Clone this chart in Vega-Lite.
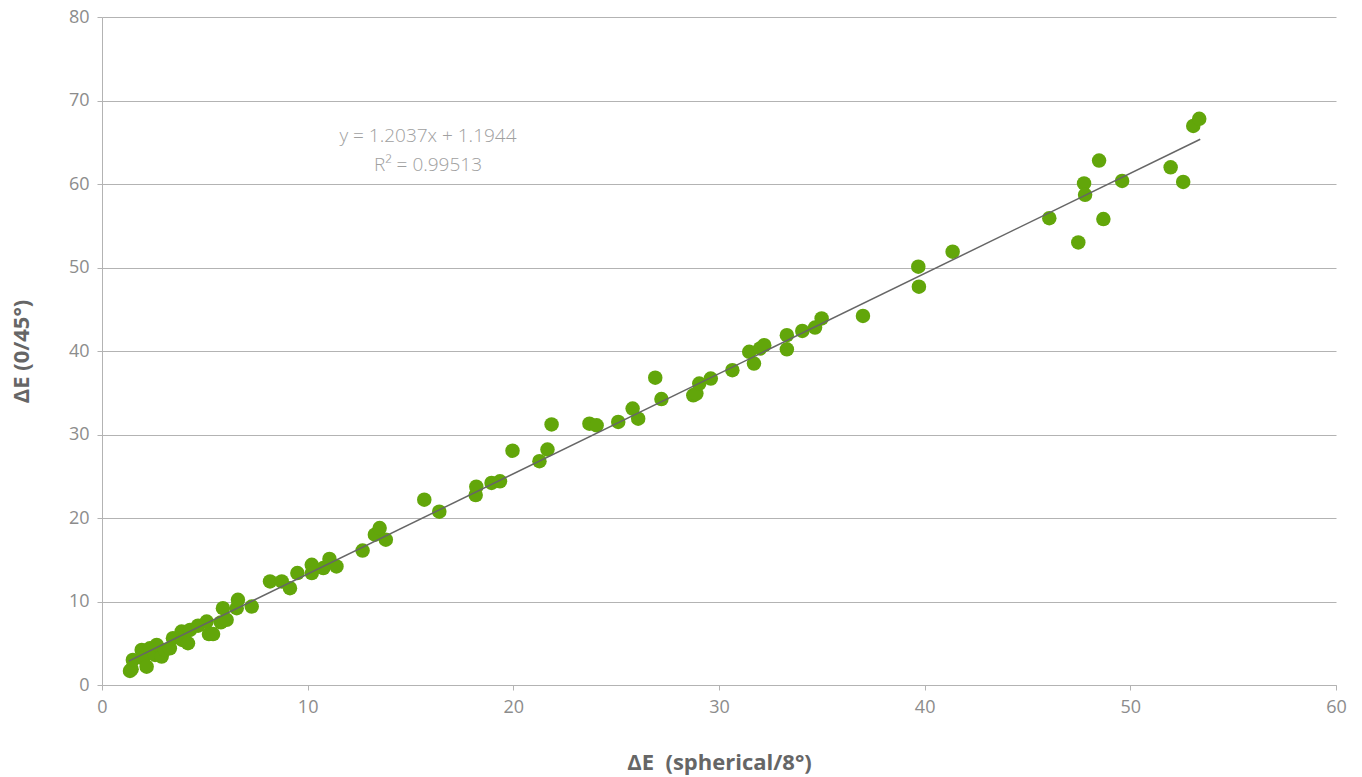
{
  "$schema": "https://vega.github.io/schema/vega-lite/v6.json",
  "autosize": "none",
  "width": 1234,
  "height": 668,
  "padding": {"left": 102, "top": 17, "right": 26, "bottom": 92},
  "background": "white",
  "config": {
    "font": "Open Sans",
    "view": {"stroke": null},
    "axis": {
      "labelFont": "Open Sans",
      "labelFontSize": 18,
      "labelColor": "#8c8c8c",
      "titleFont": "Open Sans",
      "titleFontSize": 22,
      "titleFontWeight": "bold",
      "titleColor": "#666666",
      "domainColor": "#b3b3b3",
      "tickColor": "#b3b3b3",
      "gridColor": "#b3b3b3",
      "tickSize": 5
    }
  },
  "data": {
    "values": [
      {"sph": 1.36, "d45": 1.68}, {"sph": 1.44, "d45": 1.9}, {"sph": 1.5, "d45": 3.0},
      {"sph": 1.93, "d45": 4.2}, {"sph": 2.0, "d45": 3.2}, {"sph": 2.17, "d45": 2.2},
      {"sph": 2.33, "d45": 4.4}, {"sph": 2.58, "d45": 3.6}, {"sph": 2.66, "d45": 4.8},
      {"sph": 2.9, "d45": 3.4}, {"sph": 3.06, "d45": 4.2}, {"sph": 3.3, "d45": 4.4},
      {"sph": 3.45, "d45": 5.6}, {"sph": 3.87, "d45": 6.4}, {"sph": 3.9, "d45": 5.4},
      {"sph": 4.18, "d45": 5.0}, {"sph": 4.28, "d45": 6.6}, {"sph": 4.67, "d45": 7.1},
      {"sph": 5.09, "d45": 7.6}, {"sph": 5.2, "d45": 6.1}, {"sph": 5.4, "d45": 6.1},
      {"sph": 5.78, "d45": 7.5}, {"sph": 5.88, "d45": 9.2}, {"sph": 6.06, "d45": 7.8},
      {"sph": 6.55, "d45": 9.2}, {"sph": 6.61, "d45": 10.2}, {"sph": 7.28, "d45": 9.4},
      {"sph": 8.17, "d45": 12.4}, {"sph": 8.74, "d45": 12.4}, {"sph": 9.14, "d45": 11.6},
      {"sph": 9.5, "d45": 13.4}, {"sph": 10.2, "d45": 14.4}, {"sph": 10.2, "d45": 13.4},
      {"sph": 10.76, "d45": 14.0}, {"sph": 11.06, "d45": 15.1}, {"sph": 11.4, "d45": 14.2},
      {"sph": 12.67, "d45": 16.1}, {"sph": 13.27, "d45": 18.0}, {"sph": 13.5, "d45": 18.8},
      {"sph": 13.8, "d45": 17.4}, {"sph": 15.67, "d45": 22.2}, {"sph": 16.4, "d45": 20.75},
      {"sph": 18.17, "d45": 22.75}, {"sph": 18.2, "d45": 23.75}, {"sph": 18.94, "d45": 24.2},
      {"sph": 19.35, "d45": 24.4}, {"sph": 19.96, "d45": 28.06}, {"sph": 21.27, "d45": 26.8},
      {"sph": 21.66, "d45": 28.2}, {"sph": 21.86, "d45": 31.2}, {"sph": 23.7, "d45": 31.3},
      {"sph": 24.05, "d45": 31.1}, {"sph": 25.1, "d45": 31.5}, {"sph": 25.8, "d45": 33.1},
      {"sph": 26.07, "d45": 31.9}, {"sph": 26.9, "d45": 36.8}, {"sph": 27.2, "d45": 34.25},
      {"sph": 28.75, "d45": 34.7}, {"sph": 28.9, "d45": 34.9}, {"sph": 29.04, "d45": 36.1},
      {"sph": 29.6, "d45": 36.7}, {"sph": 30.65, "d45": 37.7}, {"sph": 31.47, "d45": 39.9},
      {"sph": 31.7, "d45": 38.5}, {"sph": 32.0, "d45": 40.3}, {"sph": 32.2, "d45": 40.7},
      {"sph": 33.3, "d45": 41.9}, {"sph": 33.3, "d45": 40.2}, {"sph": 34.05, "d45": 42.4},
      {"sph": 34.67, "d45": 42.8}, {"sph": 34.99, "d45": 43.9}, {"sph": 37.0, "d45": 44.2},
      {"sph": 39.72, "d45": 47.7}, {"sph": 39.69, "d45": 50.1}, {"sph": 41.36, "d45": 51.9},
      {"sph": 46.06, "d45": 55.9}, {"sph": 47.47, "d45": 53.0}, {"sph": 47.75, "d45": 60.07},
      {"sph": 47.8, "d45": 58.7}, {"sph": 48.48, "d45": 62.8}, {"sph": 48.69, "d45": 55.8},
      {"sph": 49.6, "d45": 60.36}, {"sph": 51.96, "d45": 62.0}, {"sph": 52.57, "d45": 60.24},
      {"sph": 53.06, "d45": 66.95}, {"sph": 53.35, "d45": 67.8}
    ]
  },
  "layer": [
    {
      "mark": {"type": "point", "filled": true, "opacity": 1, "size": 210, "color": "#62a60a", "shape": "circle"},
      "encoding": {
        "x": {
          "field": "sph", "type": "quantitative",
          "scale": {"domain": [0, 60], "nice": false, "zero": true},
          "axis": {"title": "ΔE\u00a0 (spherical/8°)", "values": [0, 10, 20, 30, 40, 50, 60], "grid": false, "labelPadding": 8, "labelFlush": false, "titlePadding": 36}
        },
        "y": {
          "field": "d45", "type": "quantitative",
          "scale": {"domain": [0, 80], "nice": false},
          "axis": {"title": "ΔE (0/45°)", "values": [0, 10, 20, 30, 40, 50, 60, 70, 80], "grid": true, "labelPadding": 8, "labelFlush": false, "titlePadding": 35}
        }
      }
    },
    {
      "transform": [{"regression": "d45", "on": "sph", "extent": [1.3, 53.4]}],
      "mark": {"type": "line", "color": "#666666", "strokeWidth": 1.5},
      "encoding": {
        "x": {"field": "sph", "type": "quantitative"},
        "y": {"field": "d45", "type": "quantitative"}
      }
    },
    {
      "data": {"values": [{"label": "fit"}]},
      "mark": {
        "type": "text",
        "text": ["y = 1.2037x + 1.1944", "R² = 0.99513"],
        "font": "Open Sans",
        "fontSize": 19,
        "fontWeight": 300,
        "color": "#a0a0a0",
        "align": "center",
        "baseline": "middle",
        "lineHeight": 29
      },
      "encoding": {
        "x": {"datum": 15.85},
        "y": {"datum": 65.75}
      }
    }
  ]
}
